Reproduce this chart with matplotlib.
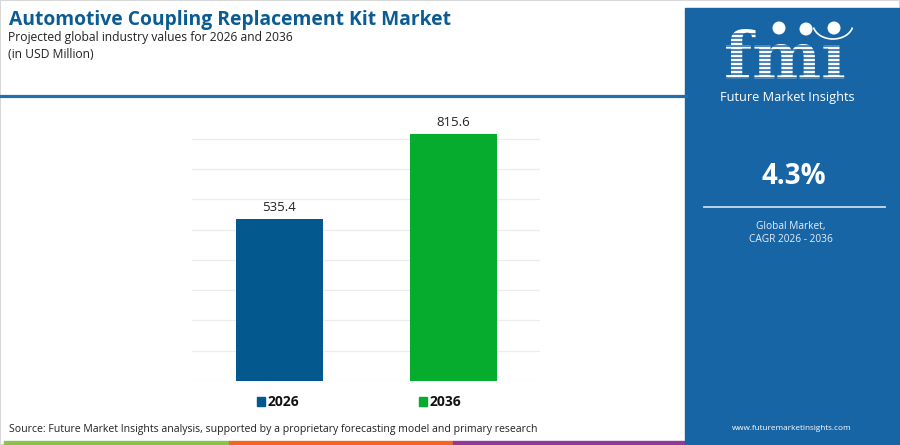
import matplotlib.pyplot as plt
from matplotlib.patches import Rectangle, Ellipse, Arc
from matplotlib.lines import Line2D

# Chart data
years = ['2026', '2036']
values = [535.4, 815.6]
bar_colors = ['#03598e', '#06ac2e']
cagr = '4.3%'

W, H = 900, 445
fig = plt.figure(figsize=(W / 100, H / 100), dpi=100)
fig.patch.set_facecolor('white')
plt.rcParams['font.family'] = ['Open Sans', 'DejaVu Sans']


def fx(x):
    return x / W


def fy(y):
    return 1 - y / H


# light outer border
fig.add_artist(Rectangle((0, 0), 1, 1, transform=fig.transFigure, fill=False,
                         edgecolor='#d8d8d8', linewidth=1.5))

# header text
fig.text(fx(9), fy(20), 'Automotive Coupling Replacement Kit Market', fontsize=13.9,
         fontweight='bold', color='#0b5c94', va='center', ha='left')
fig.text(fx(8), fy(38), 'Projected global industry values for 2026 and 2036', fontsize=8.7,
         color='#222222', va='center', ha='left')
fig.text(fx(8), fy(55), '(in USD Million)', fontsize=8.7, color='#222222', va='center', ha='left')

# header rule
fig.add_artist(Line2D([0, fx(686)], [fy(95.8), fy(95.8)], transform=fig.transFigure,
                      color='#1f6fae', linewidth=2.3))

# bar chart
ax = fig.add_axes([fx(192), fy(381), fx(540) - fx(192), fy(108.7) - fy(381)])
x = range(len(years))
ax.bar(x, values, width=0.5, color=bar_colors, zorder=3)
ax.set_xlim(-0.5, 1.5)
ax.set_ylim(0, 900)
ax.set_yticks(range(0, 801, 100))
ax.grid(axis='y', color='#ececec', linewidth=0.9, zorder=0)
ax.tick_params(left=False, bottom=False, labelleft=False, labelbottom=False)
for s in ax.spines.values():
    s.set_visible(False)
for i, v in enumerate(values):
    ax.annotate(f'{v:.1f}', (i, v), textcoords='offset points', xytext=(0, 3.5),
                ha='center', va='bottom', fontsize=9.5, color='#222222')

# legend
for i, (lab, c) in enumerate(zip(years, bar_colors)):
    lx = 257 + i * 162
    fig.add_artist(Rectangle((fx(lx), fy(405.5)), fx(8), fy(397.5) - fy(405.5),
                             transform=fig.transFigure, color=c))
    fig.text(fx(lx + 11), fy(401.5), lab, fontsize=10, fontweight='bold', color='#111111',
             va='center', ha='left')

# source
fig.text(fx(9), fy(429.5), 'Source: Future Market Insights analysis, supported by a proprietary '
         'forecasting model and primary research', fontsize=7.6, color='#222222',
         va='center', ha='left')

# bottom stripe
for x0, x1, c in [(4, 229, '#8bc34a'), (229, 453, '#f26522'), (453, 684, '#8e3a96')]:
    fig.add_artist(Rectangle((fx(x0), 0), fx(x1 - x0), fy(440.5),
                             transform=fig.transFigure, color=c))

# right panel
panel = '#1865a6'
fig.add_artist(Rectangle((fx(685), 0), fx(215), fy(8), transform=fig.transFigure,
                         color=panel))
fig.text(fx(785), fy(79), 'fm\u0131', fontsize=47, fontweight='bold', family='DejaVu Serif',
         color='white', va='baseline', ha='center', zorder=3)
for yy in range(34, 84, 4):
    fig.add_artist(Line2D([fx(715), fx(860)], [fy(yy), fy(yy)], transform=fig.transFigure,
                          color=panel, linewidth=1.1, zorder=4))
for cx, cy in [(779, 28), (806, 29), (834, 28)]:
    fig.add_artist(Ellipse((fx(cx), fy(cy)), 13 / W, 13 / H, transform=fig.transFigure,
                           facecolor='white', edgecolor='none', zorder=5))
fig.add_artist(Arc((fx(833), fy(24)), 40 / W, 30 / H, theta1=200, theta2=340,
                   transform=fig.transFigure, color='white', linewidth=1.2, zorder=5))
fig.text(fx(787), fy(98), 'Future Market Insights', fontsize=9.2, color='white',
         va='center', ha='center')
fig.text(fx(794), fy(177), cagr, fontsize=20, fontweight='bold', color='white',
         va='center', ha='center')
fig.add_artist(Line2D([fx(704), fx(885)], [fy(207), fy(207)], transform=fig.transFigure,
                      color='#c9dcee', linewidth=1.3))
fig.text(fx(791), fy(226), 'Global Market,', fontsize=7.3, color='#e6eef7',
         va='center', ha='center')
fig.text(fx(791), fy(239.5), 'CAGR 2026 - 2036', fontsize=7.3, color='#e6eef7',
         va='center', ha='center')
fig.text(fx(792), fy(428), 'www.futuremarketinsights.com', fontsize=5.9, color='white',
         va='center', ha='center')

fig.savefig('out.png', dpi=100, facecolor='white')
